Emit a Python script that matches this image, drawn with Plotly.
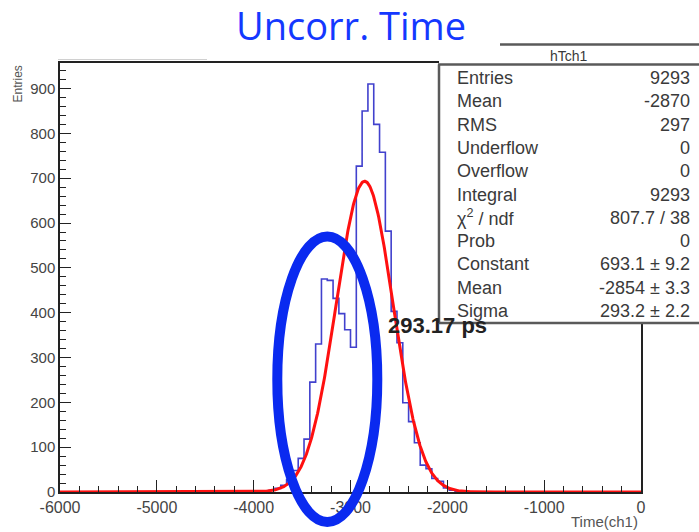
import numpy as np
import plotly.graph_objects as go

# ---- histogram hTch1: 100 bins of 60 from -6000 to 0 ----
hist_lo = -6000
hist_hi = 0
bin_width = 60
# counts of the filled bins, starting at the bin whose lower edge is first_filled_edge
first_filled_edge = -3960
filled_counts = [1, 2, 4, 8, 15, 28, 48, 75, 118, 245, 330,
                 475, 472, 432, 398, 362, 323,
                 727, 850, 910, 820, 758, 582,
                 403, 333, 199, 157, 110, 60, 52, 30, 24, 9, 4, 2, 1]

# gaussian fit results
fit_constant = 693.1
fit_mean = -2854
fit_sigma = 293.2

# axis ticks
x_tick_vals = [-6000, -5000, -4000, -3000, -2000, -1000, 0]
y_tick_vals = [0, 100, 200, 300, 400, 500, 600, 700, 800, 900]

# stats box rows
stat_labels = ["Entries", "Mean", "RMS", "Underflow", "Overflow", "Integral",
               "\u03c7<sup>2</sup> / ndf", "Prob", "Constant", "Mean", "Sigma"]
stat_values = ["9293", "-2870", "297", "0", "0", "9293", "807.7 / 38", "0",
               "693.1 \u00b1 9.2", "-2854 \u00b1 3.3", "293.2 \u00b1 2.2"]

# ---- page geometry ----
W, H = 699, 532
ML, MR, MT, MB = 60, 58, 63, 40
PW, PH = W - ML - MR, H - MT - MB


def px(xp):
    return (xp - ML) / PW


def py(yp):
    return (H - MB - yp) / PH


# full binned content
n_bins = int((hist_hi - hist_lo) / bin_width)
edges = hist_lo + bin_width * np.arange(n_bins + 1)
counts = np.zeros(n_bins)
start = int(round((first_filled_edge - hist_lo) / bin_width))
counts[start:start + len(filled_counts)] = filled_counts

step_x = np.concatenate([[edges[0]], edges])
step_y = np.concatenate([[0], counts, [counts[-1]]])[: len(step_x)]

fx = np.linspace(hist_lo, hist_hi, 1201)
fy = fit_constant * np.exp(-0.5 * ((fx - fit_mean) / fit_sigma) ** 2)

fig = go.Figure()
fig.add_trace(go.Scatter(x=step_x, y=step_y, mode="lines", line_shape="hv",
                         line=dict(color="rgb(65,65,205)", width=1.6),
                         hoverinfo="skip", showlegend=False))
fig.add_trace(go.Scatter(x=fx, y=fy, mode="lines",
                         line=dict(color="#ff1010", width=3),
                         hoverinfo="skip", showlegend=False))

helv = "Liberation Sans, Arial, sans-serif"
fig.update_layout(
    width=W, height=H,
    margin=dict(l=ML, r=MR, t=MT, b=MB, pad=0),
    paper_bgcolor="white", plot_bgcolor="white",
    showlegend=False,
    xaxis=dict(range=[hist_lo, hist_hi], tickvals=x_tick_vals,
               ticktext=[str(v) for v in x_tick_vals],
               ticks="inside", ticklen=12, tickwidth=1, tickcolor="#222",
               minor=dict(dtick=200, ticks="inside", ticklen=6, tickcolor="#222"),
               showline=True, linecolor="#222", linewidth=1.5, mirror=True,
               showgrid=False, zeroline=False,
               tickfont=dict(family=helv, size=16, color="#444")),
    yaxis=dict(range=[0, 957], tickvals=y_tick_vals,
               ticktext=[str(v) for v in y_tick_vals],
               ticks="inside", ticklen=11, tickwidth=1, tickcolor="#222",
               minor=dict(dtick=20, ticks="inside", ticklen=6, tickcolor="#222"),
               showline=True, linecolor="#222", linewidth=1.5, mirror=True,
               showgrid=False, zeroline=False,
               tickfont=dict(family=helv, size=15, color="#444")),
)

shapes = []
# stats box: white body above the frame, grey borders
shapes.append(dict(type="rect", xref="paper", yref="paper",
                   x0=px(439), x1=px(W + 5), y0=py(323), y1=py(45),
                   fillcolor="white", line=dict(width=0), layer="above"))
grey = "#5a5a5a"
for (x0, y0, x1, y1) in [(500, 44.5, W + 5, 44.5), (438, 64.5, W + 5, 64.5),
                         (439, 64.5, 439, 323), (439, 323, W + 5, 323)]:
    shapes.append(dict(type="line", xref="paper", yref="paper",
                       x0=px(x0), y0=py(y0), x1=px(x1), y1=py(y1),
                       line=dict(color=grey, width=2.5), layer="above"))
# faint line left of the title
shapes.append(dict(type="line", xref="paper", yref="paper",
                   x0=px(58), y0=py(59.5), x1=px(207), y1=py(59.5),
                   line=dict(color="#d0d0d0", width=1), layer="above"))
# highlight ellipse around the left shoulder
cx, cy, rx, ry = 327.3, 379.3, 50, 142.7
shapes.append(dict(type="circle", xref="paper", yref="paper",
                   x0=px(cx - rx), x1=px(cx + rx), y0=py(cy + ry), y1=py(cy - ry),
                   line=dict(color="#0a2af0", width=10), layer="above"))
fig.update_layout(shapes=shapes)

ann = []
stat_font = dict(family=helv, size=18, color="#3a3a3a")
row_y0, row_dy = 78, 23.3
for i, (lab, val) in enumerate(zip(stat_labels, stat_values)):
    yy = py(row_y0 + i * row_dy)
    ann.append(dict(x=px(455), y=yy, xref="paper", yref="paper", text=lab,
                    showarrow=False, xanchor="left", yanchor="middle", font=stat_font))
    ann.append(dict(x=px(692), y=yy, xref="paper", yref="paper", text=val,
                    showarrow=False, xanchor="right", yanchor="middle", font=stat_font))
ann.append(dict(x=px(569), y=py(56), xref="paper", yref="paper", text="hTch1",
                showarrow=False, xanchor="center", yanchor="middle",
                font=dict(family=helv, size=14, color="#3a3a3a")))
ann.append(dict(x=px(386), y=py(325), xref="paper", yref="paper", text="<b>293.17 ps</b>",
                showarrow=False, xanchor="left", yanchor="middle",
                font=dict(family=helv, size=22, color="#222")))
ann.append(dict(x=px(351), y=py(25), xref="paper", yref="paper", text="Uncorr. Time",
                showarrow=False, xanchor="center", yanchor="middle",
                font=dict(family="Open Sans, sans-serif", size=38, color="#1438ff")))
ann.append(dict(x=px(640), y=py(521), xref="paper", yref="paper", text="Time(ch1)",
                showarrow=False, xanchor="right", yanchor="middle",
                font=dict(family=helv, size=15, color="#555")))
ann.append(dict(x=px(17), y=py(64), xref="paper", yref="paper", text="Entries",
                showarrow=False, xanchor="center", yanchor="top", textangle=-90,
                font=dict(family=helv, size=12, color="#555")))
fig.update_layout(annotations=ann)

fig.write_html("out.html")
